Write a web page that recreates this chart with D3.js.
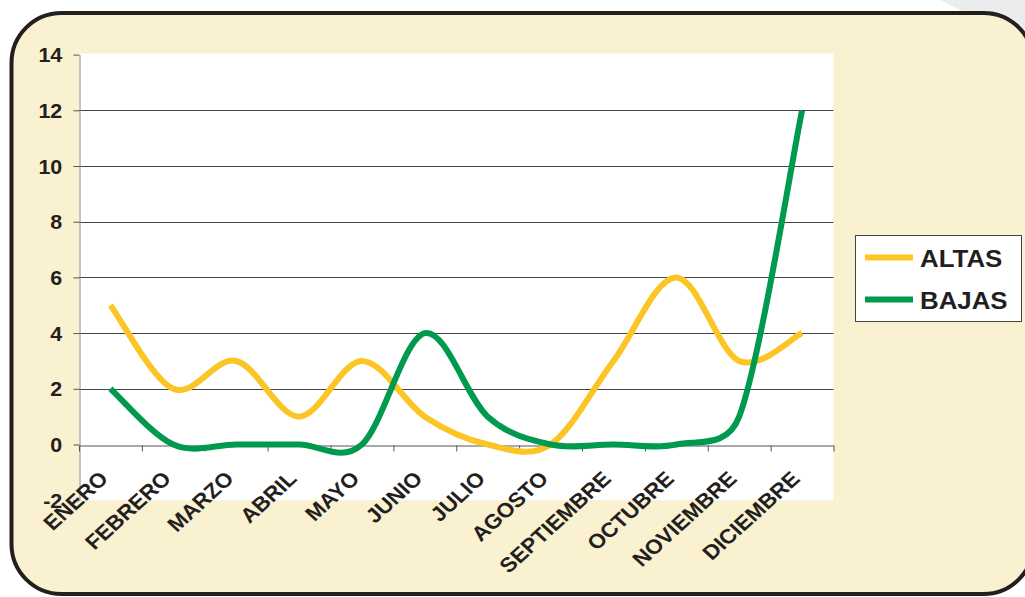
<!DOCTYPE html>
<html>
<head>
<meta charset="utf-8">
<script src="https://cdn.jsdelivr.net/npm/d3@7"></script>
<style>
	html, body { margin: 0; padding: 0; background: #fff; }
	svg { display: block; }
	text { font-family: "Liberation Sans", Arial, sans-serif; font-weight: bold; fill: #231f20; }
</style>
</head>
<body>
<div id="chart"></div>
<script>
//////////////////////////////////////////////////
// data
//////////////////////////////////////////////////
var months = ['ENERO', 'FEBRERO', 'MARZO', 'ABRIL', 'MAYO', 'JUNIO', 'JULIO',
	'AGOSTO', 'SEPTIEMBRE', 'OCTUBRE', 'NOVIEMBRE', 'DICIEMBRE'];
var altas = [5, 2, 3, 1, 3, 1, 0, 0, 3, 6, 3, 4];
var bajas = [2, 0, 0, 0, 0, 4, 1, 0, 0, 0, 1, 12];
var yTicks = [-2, 0, 2, 4, 6, 8, 10, 12, 14];
var seriesNames = ['ALTAS', 'BAJAS'];

var width = 1025,
	height = 597,
	colors = ['#fcc526', '#009a4e'],
	stretch = 'scale(1.1,1)';

var svg = d3.select('#chart')
	.append('svg')
	.attr('width', width)
	.attr('height', height);

//////////////////////////////////////////////////
// frame
//////////////////////////////////////////////////
svg.append('polygon')
	.attr('points', '940,0 1025,0 1025,42')
	.style('fill', '#ececec');

svg.append('rect')
	.attr('x', 11.5)
	.attr('y', 13)
	.attr('width', 1022)
	.attr('height', 581)
	.attr('rx', 50)
	.style('fill', '#f9f1d0')
	.style('stroke', '#231f20')
	.style('stroke-width', 4);

//////////////////////////////////////////////////
// scales
//////////////////////////////////////////////////
var x = d3.scaleBand().domain(months).range([79, 833.5]).padding(0),
	xi = d3.scaleLinear().domain([0, months.length]).range([79, 833.5]),
	y = d3.scaleLinear().domain([-2, 14]).range([500.2, 54.6]);

function cx(m) {
	return x(m) + x.bandwidth() / 2;
}

svg.append('rect')
	.attr('x', 79)
	.attr('y', y(14) - 1)
	.attr('width', 833.5 - 79)
	.attr('height', y(-2) - y(14) + 1)
	.style('fill', '#fff');

// gridlines
svg.append('g')
	.selectAll('line')
	.data(yTicks.filter(function(t) { return t > 0 && t < 14; }))
	.join('line')
	.attr('x1', 79)
	.attr('x2', 833.5)
	.attr('y1', function(d) { return Math.round(y(d)) + 0.5; })
	.attr('y2', function(d) { return Math.round(y(d)) + 0.5; })
	.style('stroke', '#444')
	.style('stroke-width', 1);

//////////////////////////////////////////////////
// axes
//////////////////////////////////////////////////
var yAxis = svg.append('g')
	.attr('transform', 'translate(79.5,0)')
	.call(d3.axisLeft(y).tickValues(yTicks).tickFormat(function(d) { return String(d); }).tickSize(6).tickSizeOuter(0));
yAxis.attr('font-family', null).attr('font-size', null);
yAxis.select('.domain').style('stroke', '#888');
yAxis.selectAll('.tick line').style('stroke', '#555');
yAxis.selectAll('.tick text')
	.attr('x', -15.7)
	.attr('dy', '0.36em')
	.attr('transform', stretch)
	.attr('fill', null)
	.style('font-size', '19.5px');

var xAxis = svg.append('g')
	.attr('transform', 'translate(0,' + (Math.round(y(0)) + 0.5) + ')')
	.call(d3.axisBottom(xi).tickValues(d3.range(months.length + 1)).tickFormat('').tickSizeInner(6).tickSizeOuter(0));
xAxis.select('.domain').style('stroke', '#555');
xAxis.selectAll('.tick line').style('stroke', '#555');

svg.append('g')
	.selectAll('text')
	.data(months)
	.join('text')
	.attr('transform', function(d) {
		return 'translate(' + (cx(d) - 1) + ',480) ' + stretch + ' rotate(-45)';
	})
	.attr('text-anchor', 'end')
	.style('font-size', '20.5px')
	.text(function(d) { return d; });

//////////////////////////////////////////////////
// smoothed lines (bezier, arms capped at half segment)
//////////////////////////////////////////////////
function arm(a, b, cap) {
	var dx = (b[0] - a[0]) / 6,
		dy = (b[1] - a[1]) / 6,
		l = Math.hypot(dx, dy);
	if (l > cap) {
		dx *= cap / l;
		dy *= cap / l;
	}
	return [dx, dy];
}

function smoothCurve(context) {
	var pts;
	return {
		areaStart: function() {},
		areaEnd: function() {},
		lineStart: function() { pts = []; },
		point: function(px, py) { pts.push([+px, +py]); },
		lineEnd: function() {
			var n = pts.length;
			if (!n) return;
			context.moveTo(pts[0][0], pts[0][1]);
			for (var i = 0; i < n - 1; i++) {
				var p0 = pts[Math.max(i - 1, 0)],
					p1 = pts[i],
					p2 = pts[i + 1],
					p3 = pts[Math.min(i + 2, n - 1)],
					half = Math.hypot(p2[0] - p1[0], p2[1] - p1[1]) / 2,
					a = arm(p0, p2, half),
					b = arm(p1, p3, half);
				context.bezierCurveTo(p1[0] + a[0], p1[1] + a[1], p2[0] - b[0], p2[1] - b[1], p2[0], p2[1]);
			}
		}
	};
}

var line = d3.line()
	.x(function(d, i) { return cx(months[i]); })
	.y(function(d) { return y(d); })
	.curve(smoothCurve);

[altas, bajas].forEach(function(series, i) {
	svg.append('path')
		.datum(series)
		.attr('d', line)
		.style('fill', 'none')
		.style('stroke', colors[i])
		.style('stroke-width', 6)
		.style('stroke-linejoin', 'round');
});

//////////////////////////////////////////////////
// legend
//////////////////////////////////////////////////
var legend = svg.append('g');
legend.append('rect')
	.attr('x', 855.5)
	.attr('y', 235.5)
	.attr('width', 166)
	.attr('height', 86)
	.style('fill', '#fff')
	.style('stroke', '#444')
	.style('stroke-width', 1);

var item = legend.selectAll('g.item')
	.data(seriesNames)
	.join('g')
	.attr('class', 'item')
	.attr('transform', function(d, i) { return 'translate(0,' + (257.5 + i * 42) + ')'; });

item.append('line')
	.attr('x1', 865)
	.attr('x2', 913)
	.style('stroke', function(d, i) { return colors[i]; })
	.style('stroke-width', 6);

item.append('text')
	.attr('transform', 'translate(920,9) ' + stretch)
	.style('font-size', '23.5px')
	.text(function(d) { return d; });
</script>
</body>
</html>
